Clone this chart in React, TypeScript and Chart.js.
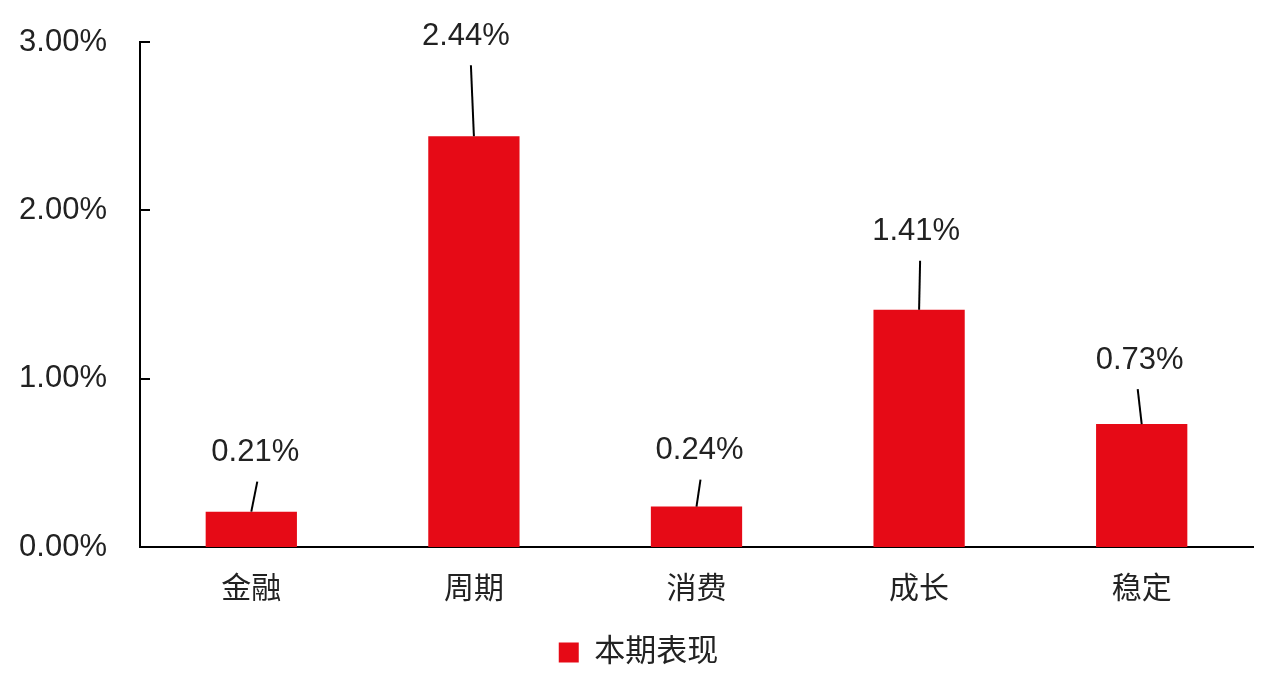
import React, { useEffect, useRef } from "react";
import { Chart, registerables } from "chart.js";

Chart.register(...registerables);

const categories = ["金融", "周期", "消费", "成长", "稳定"];
const seriesName = "本期表现";
const values = [0.21, 2.44, 0.24, 1.41, 0.73];
const yTicks = [0, 1, 2, 3];

// label placement (px offsets from bar top center), styling only
const labelDy = [-59, -100, -56, -78, -64];
const labelDx = [4, -8, 3, -3, -2];
const leaderTopDx = [6, -3, 4, 1, -4];

const FONT = "'Liberation Sans', 'Noto Sans CJK SC', sans-serif";
const RED = "#E60A16";
const TEXT = "#222222";

const overlay = {
  id: "overlay",
  afterLayout(chart: any) {
    // let y tick labels extend into the left padding without being clipped
    chart.scales.y.left = 0;
  },
  afterDatasetsDraw(chart: any) {
    const ctx = chart.ctx;
    const meta = chart.getDatasetMeta(0);
    const yScale = chart.scales.y;
    const xScale = chart.scales.x;
    ctx.save();
    // inward ticks on y axis
    ctx.strokeStyle = "#000";
    ctx.lineWidth = 2;
    yTicks.forEach((t) => {
      const y = Math.round(yScale.getPixelForValue(t));
      ctx.beginPath();
      ctx.moveTo(xScale.left, y);
      ctx.lineTo(xScale.left + 10, y);
      ctx.stroke();
    });
    // labels with leader lines
    ctx.font = "31px " + FONT;
    ctx.fillStyle = TEXT;
    ctx.textAlign = "center";
    ctx.textBaseline = "middle";
    meta.data.forEach((bar: any, i: number) => {
      const bx = bar.x;
      const by = bar.y;
      const lx = bx + labelDx[i];
      const ly = by + labelDy[i];
      ctx.beginPath();
      ctx.moveTo(bx, by);
      ctx.lineTo(bx + leaderTopDx[i], ly + 29);
      ctx.strokeStyle = "#000";
      ctx.lineWidth = 2;
      ctx.stroke();
      ctx.fillText(values[i].toFixed(2) + "%", lx, ly);
    });
    ctx.restore();
  },
};

export default function App() {
  const ref = useRef<HTMLCanvasElement | null>(null);
  useEffect(() => {
    if (!ref.current) return;
    const chart = new Chart(ref.current, {
      type: "bar",
      data: {
        labels: categories,
        datasets: [
          {
            label: seriesName,
            data: values,
            backgroundColor: RED,
            borderWidth: 0,
            categoryPercentage: 1,
            barPercentage: 0.41,
          },
        ],
      },
      options: {
        animation: false,
        responsive: true,
        maintainAspectRatio: false,
        layout: { padding: { top: 42, right: 16, bottom: 3, left: 24 } },
        plugins: {
          legend: {
            position: "bottom",
            labels: {
              boxWidth: 20,
              boxHeight: 20,
              padding: 10,
              color: TEXT,
              font: { family: FONT, size: 31 },
            },
          },
          tooltip: { enabled: false },
        },
        scales: {
          x: {
            grid: { display: false, drawTicks: false },
            border: { display: true, color: "#000", width: 2 },
            ticks: {
              color: TEXT,
              padding: 25,
              font: { family: FONT, size: 30 },
            },
            afterFit(scale: any) {
              scale.height = 80;
            },
          },
          y: {
            min: 0,
            max: 3,
            grid: { display: false, drawTicks: true, tickLength: 33 },
            border: { display: true, color: "#000", width: 2 },
            ticks: {
              stepSize: 1,
              padding: 0,
              color: TEXT,
              font: { family: FONT, size: 31 },
              callback: (v: any) => Number(v).toFixed(2) + "%",
            },
            afterFit(scale: any) {
              scale.width = 116;
            },
          },
        },
      },
      plugins: [overlay],
    });
    return () => chart.destroy();
  }, []);
  return (
    <div style={{ position: "fixed", left: 0, top: 0, width: 1269, height: 681, background: "#fff" }}>
      <canvas ref={ref} />
    </div>
  );
}
